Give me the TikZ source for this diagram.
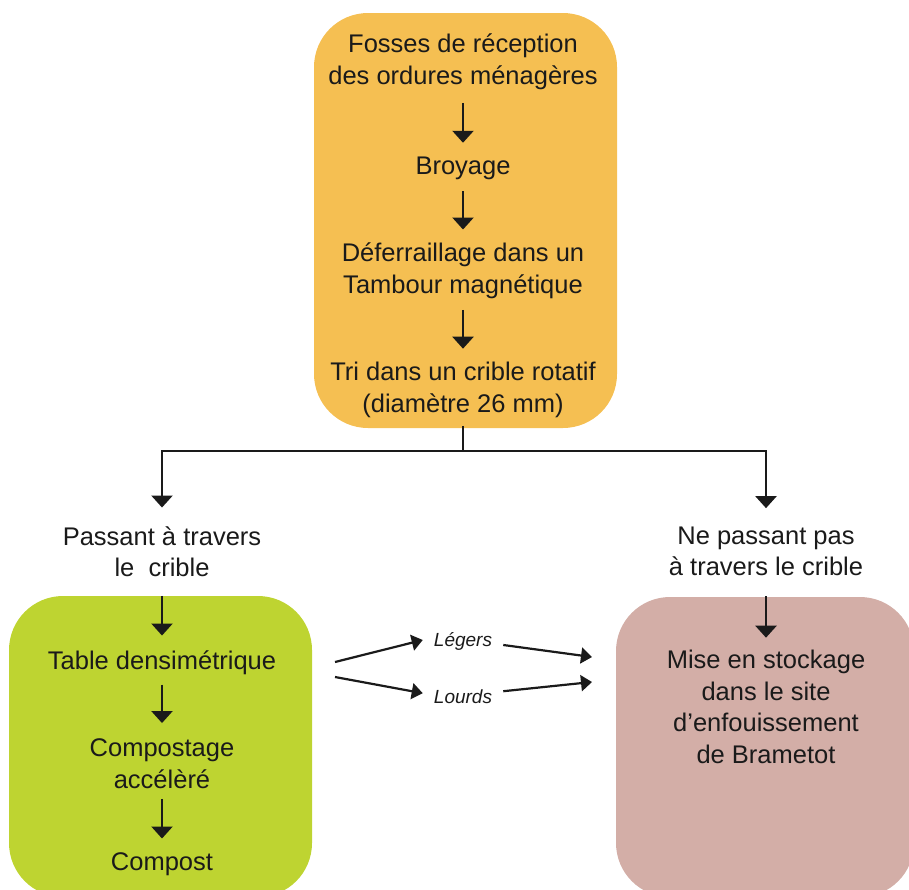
\documentclass[tikz,border=0pt]{standalone}
\usepackage{fontspec}
\setmainfont{Liberation Sans}
\usetikzlibrary{arrows.meta}
\definecolor{orangebox}{HTML}{F5BF52}
\definecolor{greenbox}{HTML}{BED431}
\definecolor{pinkbox}{HTML}{D3AEA7}
\definecolor{ink}{HTML}{1A1A1A}
\begin{document}
\begin{tikzpicture}[x=1pt,y=-1pt,
  txt/.style={font=\fontsize{25.5}{31.5}\selectfont, align=center, inner sep=0pt, text=ink},
  lbl/.style={font=\fontsize{19}{22}\selectfont\itshape, inner sep=0pt, text=ink},
  ln/.style={draw=ink, line width=2.4pt},
  arr/.style={draw=ink, line width=2.4pt, -{Triangle[length=12pt,width=21pt]}, shorten <=12pt, shorten >=13.5pt},
  arrs/.style={draw=ink, line width=2.2pt, -{Triangle[length=11pt,width=16pt]}},
  boxfill/.style={rounded corners=54pt}
]
\useasboundingbox (0,0) rectangle (909,889);
\begin{scope}
\clip (0,0) rectangle (909,889);
\fill[orangebox, boxfill] (314,13) rectangle (617,428);
\fill[greenbox, boxfill] (9,596) rectangle (312,897);
\fill[pinkbox, boxfill] (616,597) rectangle (914,897);
\end{scope}

% top box
\node[txt] (fosses) at (463,62) {Fosses de réception\\des ordures ménagères};
\node[txt, anchor=base] (broyage) at (463,174) {Broyage};
\node[txt] (defer) at (463,271) {Déferraillage dans un\\Tambour magnétique};
\node[txt] (tri) at (463,390) {Tri dans un crible rotatif\\(diamètre 26 mm)};

\draw[arr, shorten <=13pt] (fosses) -- (broyage);
\draw[arr] (broyage) -- (defer);
\draw[arr, shorten <=11pt] (defer) -- (tri);

% split
\node[txt] (passant) at (162,551.5) {Passant à travers\\le\ \ crible};
\node[txt] (nepassant) at (766,551.5) {Ne passant pas\\à travers le crible};
\coordinate (split) at (463,451);
\draw[ln] ([yshift=-8pt]tri.south) -- (split);
\draw[arr, shorten <=0pt, shorten >=18.5pt] (split) -| (passant.north);
\draw[arr, shorten <=0pt, shorten >=18.5pt] (split) -| (nepassant.north);

% green box
\node[txt, anchor=base] (table) at (162,669) {Table densimétrique};
\node[txt] (compostage) at (162,763.5) {Compostage\\accélèré};
\node[txt, anchor=base] (compost) at (162,870) {Compost};
\draw[arr, shorten <=19pt, shorten >=14.5pt] (passant) -- (table);
\draw[arr, shorten <=10pt, shorten >=15.5pt] (table) -- (compostage);
\draw[arr, shorten <=10.5pt, shorten >=13.5pt] (compostage) -- (compost);

% pink box
\node[txt] (mise) at (766,707) {Mise en stockage\\dans le site\\d’enfouissement\\de Brametot};
\draw[arr, shorten <=20pt, shorten >=12.5pt] (nepassant) -- (mise);

% middle
\node[lbl, anchor=base] (legers) at (463,646) {Légers};
\node[lbl, anchor=base] (lourds) at (463,703) {Lourds};
\coordinate (lin) at (335,662);
\coordinate (hin) at (335,677);
\coordinate (lout) at (592,657);
\coordinate (hout) at (592,682);
\draw[arrs] (lin) -- ([shift={(-11pt,1pt)}]legers.west);
\draw[arrs] ([shift={(11pt,-4pt)}]legers.east) -- (lout);
\draw[arrs] (hin) -- ([shift={(-11pt,3pt)}]lourds.west);
\draw[arrs] ([shift={(11pt,5pt)}]lourds.east) -- (hout);
\end{tikzpicture}
\end{document}
